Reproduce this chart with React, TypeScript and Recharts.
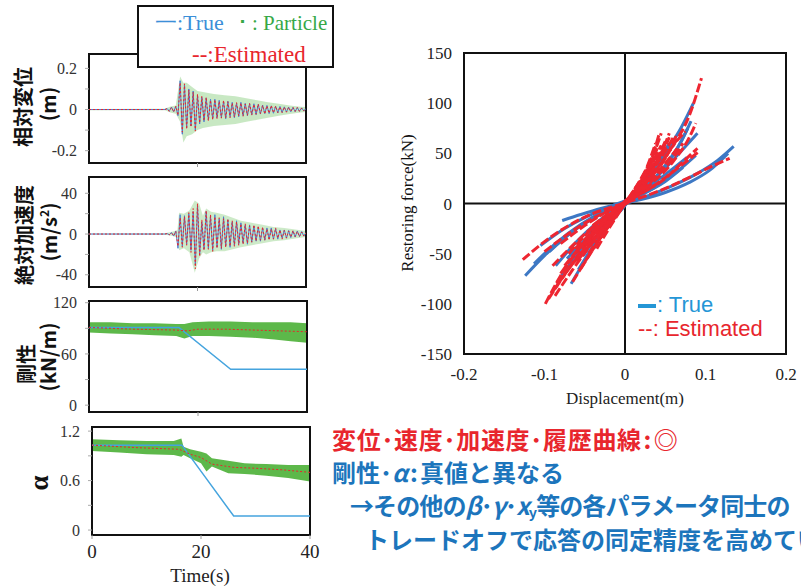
import { ComposedChart, Line, Area, XAxis, YAxis, ReferenceArea, ReferenceLine } from 'recharts'

const SERIF = '"Liberation Serif", "Times New Roman", serif'
const SANS = '"Liberation Sans", Arial, sans-serif'
const JP = '"Noto Sans CJK JP", "Noto Sans", sans-serif'

const RED = '#E8262D'
const TXT_BLUE = '#1C75BC'
const LOOP_BLUE = '#3D78C4'
const LOOP_RED = '#EE2631'

// sample times of the response records (s)
const waveT = [
  0, 14.0, 14.4, 14.8, 15.2, 15.6, 16.0, 16.4, 16.8, 17.2, 17.6, 18.0, 18.4, 18.8, 19.2, 19.6, 20.0,
  20.4, 20.8, 21.2, 21.6, 22.0, 22.4, 22.8, 23.2, 23.6, 24.0, 24.4, 24.8, 25.2, 25.6, 26.0, 26.4,
  26.8, 27.2, 27.6, 28.0, 28.4, 28.8, 29.2, 29.6, 30.0, 30.4, 30.8, 31.2, 31.6, 32.0, 32.4, 32.8,
  33.2, 33.6, 34.0, 34.4, 34.8, 35.2, 35.6, 36.0, 36.4, 36.8, 37.2, 37.6, 38.0, 38.4, 38.8, 39.2,
  39.6, 40.0,
]

// relative displacement (m)
const dispTrue = [
  0, 0, 0.005, -0.008, 0.012, -0.01, 0.015, -0.03, 0.14, -0.12,
  0.12, -0.09, 0.1, -0.08, 0.09, -0.1, 0.07, -0.07, 0.06, -0.06,
  0.055, -0.05, 0.05, -0.045, 0.05, -0.04, 0.045, -0.04, 0.04, -0.045,
  0.04, -0.035, 0.035, -0.04, 0.03, -0.035, 0.035, -0.03, 0.03, -0.03,
  0.028, -0.025, 0.028, -0.025, 0.025, -0.022, 0.022, -0.02, 0.02, -0.02,
  0.018, -0.018, 0.016, -0.016, 0.015, -0.014, 0.013, -0.012, 0.012, -0.011,
  0.01, -0.01, 0.009, -0.008, 0.008, -0.007, 0.005,
]
const dispEst = [
  0, 0, 0.004, -0.009, 0.011, -0.012, 0.016, -0.028, 0.13, -0.11,
  0.125, -0.095, 0.095, -0.085, 0.085, -0.105, 0.075, -0.065, 0.065, -0.055,
  0.06, -0.055, 0.045, -0.05, 0.048, -0.045, 0.04, -0.042, 0.045, -0.04,
  0.038, -0.04, 0.032, -0.036, 0.034, -0.03, 0.032, -0.033, 0.027, -0.028,
  0.03, -0.027, 0.025, -0.023, 0.027, -0.02, 0.02, -0.022, 0.018, -0.018,
  0.02, -0.016, 0.017, -0.015, 0.013, -0.015, 0.012, -0.013, 0.011, -0.01,
  0.011, -0.009, 0.01, -0.009, 0.007, -0.006, 0.004,
]
const dispBandT = [0, 14, 15, 16, 16.8, 17.4, 18, 19, 20, 21, 22, 23, 25, 27, 29, 31, 33, 35, 37, 39, 40]
const dispBandLo = [-0.003, -0.004, -0.015, -0.02, -0.06, -0.16, -0.13, -0.12, -0.1, -0.09, -0.085, -0.08, -0.075, -0.07, -0.06, -0.05, -0.04, -0.03, -0.022, -0.015, -0.012]
const dispBandHi = [0.003, 0.004, 0.015, 0.02, 0.16, 0.13, 0.13, 0.11, 0.09, 0.085, 0.08, 0.075, 0.07, 0.065, 0.055, 0.045, 0.035, 0.028, 0.02, 0.014, 0.012]

// absolute acceleration (m/s2)
const accTrue = [
  0, 0, 0.5, -0.8, 1.5, -2, 3, -14, 19, -12,
  18, -10, 20, -16, 22, -30, 28, -20, 12, -15,
  22, -14, 18, -16, 19, -13, 15, -15, 17, -12,
  14, -13, 12, -11, 13, -10, 11, -9, 9, -10,
  9, -8, 8, -7, 7, -7, 6, -6, 6, -5,
  6, -5, 5, -5, 4, -4, 4, -4, 3.5, -3.5,
  3, -3, 3, -2.5, 2.5, -2, 1.5,
]
const accEst = [
  0, 0, 0.4, -0.7, 1.2, -1.8, 2.5, -12, 16, -13,
  17, -11, 21, -18, 25, -34, 30, -22, 14, -16,
  23, -15, 19, -17, 17, -14, 16, -14, 15, -13,
  15, -12, 13, -12, 12, -11, 10, -10, 10, -9,
  8, -8, 9, -7, 8, -6, 7, -6, 5, -6,
  5, -5, 6, -4, 4, -5, 3.5, -4, 3, -3,
  3.5, -2.5, 2.5, -2.5, 2, -2, 1,
]
const accBandT = [0, 14, 15.5, 16.3, 16.6, 17.5, 18.5, 19.5, 20.3, 21, 21.6, 22.5, 23.5, 25, 26.5, 28, 30, 32, 34, 36, 38, 40]
const accBandLo = [-0.5, -0.8, -2, -4, -16, -14, -18, -38, -24, -18, -20, -18, -17, -17, -15, -13, -11, -9, -7, -6, -4.5, -3]
const accBandHi = [0.5, 0.8, 2.5, 4, 21, 20, 23, 33, 30, 18, 25, 22, 21, 19, 16, 13, 11, 9, 7, 6, 4.5, 3]

// stiffness (kN/m)
const stiffTrueT = [0, 16.5, 26, 40]
const stiffTrue = [91, 91, 42, 42]
const stiffEstT = [0, 8, 16, 18, 20, 25, 30, 35, 40]
const stiffEst = [91, 89, 88, 87, 89, 89, 88, 87, 86]
const stiffBandT = [0, 4, 8, 12, 16, 17.5, 19, 22, 26, 30, 34, 37, 40]
const stiffBandLo = [85, 84, 83, 82, 81, 78, 81, 81, 80, 79, 77, 75, 73]
const stiffBandHi = [97, 97, 96, 96, 95, 95, 97, 98, 98, 97, 97, 97, 96]

// alpha
const alphaTrueT = [0, 16.5, 26, 40]
const alphaTrue = [1.03, 1.03, 0.17, 0.17]
const alphaEstT = [0, 8, 16, 18, 20, 22, 26, 30, 35, 40]
const alphaEst = [1.03, 1.0, 0.98, 0.92, 0.88, 0.8, 0.76, 0.75, 0.73, 0.7]
const alphaBandT = [0, 5, 10, 15, 16.4, 16.8, 18, 20, 21, 22, 25, 28, 32, 36, 40]
const alphaBandLo = [0.96, 0.94, 0.92, 0.91, 0.89, 0.91, 0.87, 0.81, 0.71, 0.77, 0.69, 0.68, 0.66, 0.63, 0.59]
const alphaBandHi = [1.1, 1.09, 1.08, 1.08, 1.11, 1.01, 0.98, 0.95, 0.93, 0.87, 0.84, 0.81, 0.8, 0.79, 0.79]

// hysteresis branches: [displacement (m), restoring force (kN)]
const trueLoops: [number, number][][] = [
  [[-0.124, -72], [-0.1, -52], [-0.075, -34], [-0.05, -19], [-0.025, -8], [0, 0], [0.03, 8], [0.06, 18], [0.09, 30], [0.115, 43], [0.135, 57]],
  [[-0.078, -17], [-0.055, -11], [-0.03, -5], [-0.01, -1], [0.02, 4], [0.05, 11], [0.08, 21], [0.105, 33], [0.128, 50]],
  [[-0.067, -80], [-0.05, -57], [-0.03, -32], [-0.01, -11], [0.01, 8], [0.03, 27], [0.05, 50], [0.07, 76], [0.085, 100]],
  [[-0.086, -62], [-0.06, -38], [-0.035, -19], [-0.01, -4], [0.015, 10], [0.04, 27], [0.065, 48], [0.09, 70]],
  [[-0.072, -55], [-0.045, -32], [-0.02, -12], [0.005, 3], [0.03, 17], [0.055, 32], [0.077, 46]],
  [[-0.094, -48], [-0.065, -28], [-0.035, -13], [-0.01, -2], [0.02, 12], [0.045, 32], [0.065, 55], [0.078, 75]],
  [[-0.105, -42], [-0.075, -25], [-0.045, -12], [-0.015, -2], [0.02, 9], [0.05, 22], [0.072, 36]],
  [[-0.058, -66], [-0.04, -43], [-0.02, -21], [0, -2], [0.02, 18], [0.04, 40], [0.055, 60]],
  [[-0.08, -74], [-0.06, -51], [-0.035, -27], [-0.01, -6], [0.015, 14], [0.035, 36], [0.05, 56]],
  [[-0.052, -52], [-0.03, -27], [-0.005, -4], [0.02, 19], [0.04, 41], [0.06, 64]],
  [[-0.113, -60], [-0.085, -39], [-0.055, -21], [-0.025, -7], [0.005, 3], [0.035, 15], [0.065, 32], [0.088, 48]],
  [[-0.045, -30], [-0.025, -13], [0, 0], [0.025, 16], [0.05, 38], [0.07, 62], [0.082, 82]],
]
const estLoops: [number, number][][] = [
  [[-0.127, -56], [-0.1, -38], [-0.07, -22], [-0.04, -10], [-0.01, -2], [0.02, 6], [0.05, 15], [0.08, 26], [0.105, 36], [0.13, 45]],
  [[-0.099, -100], [-0.08, -72], [-0.06, -48], [-0.04, -28], [-0.02, -12], [0, 0], [0.02, 15], [0.04, 35], [0.06, 58], [0.08, 88], [0.095, 125]],
  [[-0.095, -95], [-0.07, -65], [-0.05, -42], [-0.03, -22], [-0.01, -6], [0.01, 10], [0.03, 30], [0.045, 50], [0.055, 70]],
  [[-0.09, -88], [-0.065, -60], [-0.04, -35], [-0.02, -16], [0, 0], [0.02, 20], [0.04, 45], [0.05, 62]],
  [[-0.085, -80], [-0.06, -55], [-0.04, -36], [-0.02, -17], [0, 0], [0.02, 18], [0.035, 35], [0.048, 55]],
  [[-0.08, -70], [-0.06, -48], [-0.035, -26], [-0.01, -5], [0.015, 14], [0.035, 35], [0.05, 52], [0.06, 66]],
  [[-0.075, -62], [-0.05, -38], [-0.025, -17], [0, 0], [0.025, 20], [0.045, 40], [0.06, 58], [0.075, 72]],
  [[-0.07, -50], [-0.045, -28], [-0.02, -10], [0.005, 5], [0.03, 22], [0.05, 40], [0.065, 55]],
  [[-0.1, -48], [-0.07, -30], [-0.04, -15], [-0.01, -3], [0.02, 10], [0.05, 25], [0.07, 40], [0.09, 55]],
  [[-0.06, -58], [-0.04, -38], [-0.02, -18], [0, 0], [0.02, 22], [0.033, 45], [0.042, 68]],
  [[-0.09, -62], [-0.06, -38], [-0.03, -17], [0, -1], [0.03, 18], [0.06, 42], [0.08, 66], [0.088, 80]],
  [[-0.065, -78], [-0.045, -52], [-0.025, -28], [-0.005, -6], [0.015, 15], [0.03, 33], [0.04, 50]],
  [[-0.05, -42], [-0.03, -22], [-0.01, -6], [0.01, 8], [0.03, 28], [0.045, 48], [0.055, 66]],
  [[-0.08, -40], [-0.05, -22], [-0.02, -7], [0.01, 5], [0.04, 20], [0.07, 38], [0.092, 52]],
  [[-0.04, -22], [-0.02, -10], [0, 0], [0.02, 12], [0.04, 28], [0.06, 45], [0.072, 60]],
  [[-0.045, -50], [-0.03, -32], [-0.015, -15], [0, 0], [0.015, 16], [0.03, 36], [0.04, 55]],
  [[-0.055, -65], [-0.035, -40], [-0.015, -16], [0.005, 6], [0.02, 25], [0.035, 48], [0.045, 70]],
  [[-0.035, -45], [-0.02, -25], [-0.005, -6], [0.01, 12], [0.025, 32], [0.038, 60]],
  [[-0.062, -45], [-0.04, -28], [-0.02, -12], [0, 0], [0.025, 20], [0.05, 45], [0.065, 70]],
  [[-0.087, -92], [-0.065, -66], [-0.045, -44], [-0.025, -24], [-0.005, -4], [0.015, 16], [0.03, 35], [0.045, 58]],
]

const toLine = (ts: number[], vs: number[]) => ts.map((t, i) => ({ t, v: vs[i] }))
const toBand = (ts: number[], lo: number[], hi: number[]) => ts.map((t, i) => ({ t, r: [lo[i], hi[i]] }))

type PanelProps = {
  plotLeft: number
  plotTop: number
  plotRight: number
  plotBottom: number
  domain: [number, number]
  ticks: number[]
  labelTicks: number[]
  line: { t: number; v: number }[]
  est: { t: number; v: number }[]
  band: { t: number; r: number[] }[]
  bandColor: string
  bandOpacity: number
  lineColor: string
  lineWidth: number
  timeAxis?: boolean
}

function Panel(p: PanelProps) {
  const top = 12
  const right = 14
  const xh = p.timeAxis ? 30 : 6
  const w = p.plotRight + right
  const h = p.plotBottom - p.plotTop + top + xh
  return (
    <div style={{ position: 'absolute', left: 0, top: p.plotTop - top }}>
      <ComposedChart width={w} height={h} margin={{ top, right, bottom: 0, left: 0 }}>
        <XAxis
          type="number"
          dataKey="t"
          domain={[0, 40]}
          allowDataOverflow
          ticks={p.timeAxis ? [0, 20, 40] : [20]}
          interval={0}
          tickFormatter={p.timeAxis ? (v: number) => String(v) : () => ''}
          height={xh}
          axisLine={false}
          tickLine={{ stroke: '#999' }}
          tickSize={4}
          tickMargin={6}
          tick={{ fontFamily: SERIF, fontSize: 19, fill: '#222' }}
        />
        <YAxis
          type="number"
          domain={p.domain}
          allowDataOverflow
          ticks={p.ticks}
          interval={0}
          tickFormatter={(v: number) => (p.labelTicks.includes(v) ? String(v) : '')}
          width={p.plotLeft}
          axisLine={false}
          tickLine={{ stroke: '#aaa' }}
          tickSize={4}
          tickMargin={8}
          tick={{ fontFamily: SERIF, fontSize: 16, fill: '#333' }}
        />
        <Area data={p.band} dataKey="r" type="linear" stroke="none" fill={p.bandColor} fillOpacity={p.bandOpacity} isAnimationActive={false} />
        <Line data={p.line} dataKey="v" type="linear" stroke={p.lineColor} strokeWidth={p.lineWidth} dot={false} isAnimationActive={false} />
        <Line data={p.est} dataKey="v" type="linear" stroke={RED} strokeWidth={1} strokeDasharray="2 2" dot={false} isAnimationActive={false} />
        <ReferenceArea x1={0} x2={40} y1={p.domain[0]} y2={p.domain[1]} fill="none" stroke="#111" strokeWidth={2} ifOverflow="visible" />
      </ComposedChart>
    </div>
  )
}

const abs = (left: number, top: number, extra: React.CSSProperties = {}): React.CSSProperties => ({
  position: 'absolute',
  left,
  top,
  whiteSpace: 'nowrap',
  ...extra,
})

function VTitle({ x, y, text, size, font = JP, weight = 700 }: { x: number; y: number; text: React.ReactNode; size: number; font?: string; weight?: number }) {
  return (
    <div
      style={{
        position: 'absolute',
        left: x,
        top: y,
        transform: 'translate(-50%, -50%) rotate(-90deg)',
        fontFamily: font,
        fontSize: size,
        fontWeight: weight,
        lineHeight: 1,
        whiteSpace: 'nowrap',
        color: '#111',
      }}
    >
      {text}
    </div>
  )
}

const colon = <span style={{ display: 'inline-block', width: '0.5em', textAlign: 'center' }}>:</span>
const lineText = (color: string, extra: React.CSSProperties = {}): React.CSSProperties => ({
  fontFamily: JP,
  fontWeight: 700,
  fontSize: 24,
  lineHeight: '24px',
  color,
  ...extra,
})

export default function App() {
  return (
    <div style={{ position: 'absolute', left: 0, top: 0, width: 801, height: 587, overflow: 'hidden', background: '#fff' }}>
      <Panel
        plotLeft={89} plotTop={54} plotRight={306} plotBottom={163}
        domain={[-0.26, 0.27]} ticks={[-0.2, -0.1, 0, 0.1, 0.2]} labelTicks={[-0.2, 0, 0.2]}
        line={toLine(waveT, dispTrue)} est={toLine(waveT, dispEst)} band={toBand(dispBandT, dispBandLo, dispBandHi)}
        bandColor="#7CC86F" bandOpacity={0.42} lineColor="#4A7FD0" lineWidth={1}
      />
      <Panel
        plotLeft={89} plotTop={177} plotRight={306} plotBottom={287}
        domain={[-52, 56]} ticks={[-40, -20, 0, 20, 40]} labelTicks={[-40, 0, 40]}
        line={toLine(waveT, accTrue)} est={toLine(waveT, accEst)} band={toBand(accBandT, accBandLo, accBandHi)}
        bandColor="#7CC86F" bandOpacity={0.38} lineColor="#4A7FD0" lineWidth={1}
      />
      <Panel
        plotLeft={89} plotTop={301} plotRight={307} plotBottom={412}
        domain={[-8, 122]} ticks={[0, 30, 60, 90, 120]} labelTicks={[0, 60, 120]}
        line={toLine(stiffTrueT, stiffTrue)} est={toLine(stiffEstT, stiffEst)} band={toBand(stiffBandT, stiffBandLo, stiffBandHi)}
        bandColor="#5DB84A" bandOpacity={1} lineColor="#45A4DE" lineWidth={1.5}
      />
      <Panel
        plotLeft={92} plotTop={427} plotRight={310} plotBottom={535}
        domain={[-0.06, 1.25]} ticks={[0, 0.3, 0.6, 0.9, 1.2]} labelTicks={[0, 0.6, 1.2]}
        line={toLine(alphaTrueT, alphaTrue)} est={toLine(alphaEstT, alphaEst)} band={toBand(alphaBandT, alphaBandLo, alphaBandHi)}
        bandColor="#5DB84A" bandOpacity={1} lineColor="#45A4DE" lineWidth={1.5} timeAxis
      />

      <VTitle x={23} y={107} text="相対変位" size={20} />
      <VTitle x={48} y={104} text="(m)" size={20} />
      <VTitle x={24} y={235} text="絶対加速度" size={20} />
      <VTitle x={48} y={232} text={<span>(m/s<sup style={{ fontSize: '0.6em' }}>2</sup>)</span>} size={20} />
      <VTitle x={26} y={364} text="剛性" size={20} />
      <VTitle x={48} y={357} text="(kN/m)" size={20} />
      <VTitle x={39} y={483} text="α" size={27} font={SERIF} />
      <div style={abs(200, 566, { transform: 'translateX(-50%)', fontFamily: SERIF, fontSize: 19, lineHeight: 1, color: '#222' })}>Time(s)</div>

      {/* legend box of the time histories */}
      <div style={abs(137, 5, { width: 197, height: 63, boxSizing: 'border-box', border: '2px solid #111', background: '#fff', fontFamily: SERIF })}>
        <span style={abs(16, 5, { fontSize: 22, lineHeight: '22px', color: '#3C8FD8' })}>一:True</span>
        <span style={abs(98, 5, { fontSize: 22, lineHeight: '22px', color: '#37A847' })}>･</span>
        <span style={abs(113, 5, { fontSize: 21, lineHeight: '22px', color: '#37A847' })}>: Particle</span>
        <span style={abs(53, 36, { fontSize: 23, lineHeight: '23px', color: RED })}>--:Estimated</span>
      </div>

      {/* restoring force vs displacement */}
      <div style={{ position: 'absolute', left: 390, top: 41 }}>
        <ComposedChart width={410} height={343} margin={{ top: 12, right: 14, bottom: 0, left: 0 }}>
          <XAxis
            type="number"
            dataKey="x"
            domain={[-0.2, 0.2]}
            allowDataOverflow
            ticks={[-0.2, -0.1, 0, 0.1, 0.2]}
            interval={0}
            height={30}
            axisLine={false}
            tickLine={false}
            tickSize={0}
            tickMargin={14}
            tick={{ fontFamily: SERIF, fontSize: 17, fill: '#222' }}
          />
          <YAxis
            type="number"
            domain={[-150, 150]}
            allowDataOverflow
            ticks={[-150, -100, -50, 0, 50, 100, 150]}
            interval={0}
            width={74}
            axisLine={false}
            tickLine={false}
            tickSize={0}
            tickMargin={12}
            tick={{ fontFamily: SERIF, fontSize: 17, fill: '#222' }}
          />
          <ReferenceLine x={0} stroke="#111" strokeWidth={2} />
          <ReferenceLine y={0} stroke="#111" strokeWidth={2} />
          {trueLoops.map((c, i) => (
            <Line
              key={`t${i}`}
              data={c.map(([x, y]) => ({ x, y }))}
              dataKey="y"
              type="monotone"
              stroke={LOOP_BLUE}
              strokeWidth={3}
              dot={false}
              isAnimationActive={false}
            />
          ))}
          {estLoops.map((c, i) => (
            <Line
              key={`e${i}`}
              data={c.map(([x, y]) => ({ x, y }))}
              dataKey="y"
              type="monotone"
              stroke={LOOP_RED}
              strokeWidth={3}
              strokeDasharray="9 3"
              dot={false}
              isAnimationActive={false}
            />
          ))}
          <ReferenceArea x1={-0.2} x2={0.2} y1={-150} y2={150} fill="none" stroke="#111" strokeWidth={2} ifOverflow="visible" />
        </ComposedChart>
      </div>
      <VTitle x={407} y={203} text="Restoring force(kN)" size={17} font={SERIF} weight={400} />
      <div style={abs(625, 390, { transform: 'translateX(-50%)', fontFamily: SERIF, fontSize: 17, lineHeight: 1, color: '#222' })}>Displacement(m)</div>

      <div style={abs(638, 293, { fontFamily: SANS, fontSize: 22, lineHeight: '24px', color: '#2496D6' })}>
        <span style={{ display: 'inline-block', width: 18, height: 4, background: '#2496D6', verticalAlign: 'middle', marginRight: 1 }} />: True
      </div>
      <div style={abs(638, 317, { fontFamily: SANS, fontSize: 22, lineHeight: '24px', color: RED })}>--: Estimated</div>

      {/* conclusions */}
      <div style={abs(332, 427, lineText(RED, { letterSpacing: 0.7 }))}>
        変位･速度･加速度･履歴曲線{colon}◎
      </div>
      <div style={abs(332, 460, lineText(TXT_BLUE))}>
        剛性･<i>α</i>{colon}真値と異なる
      </div>
      <div style={abs(350, 493, lineText(TXT_BLUE, { letterSpacing: -0.9 }))}>
        →その他の<i>β</i>･<i>γ</i>･<i>x</i>
        <span style={{ fontSize: '0.6em', position: 'relative', top: 3 }}>y</span>等の各パラメータ同士の
      </div>
      <div style={abs(365, 527, lineText(TXT_BLUE))}>
        トレードオフで応答の同定精度を高めてい
      </div>
    </div>
  )
}
